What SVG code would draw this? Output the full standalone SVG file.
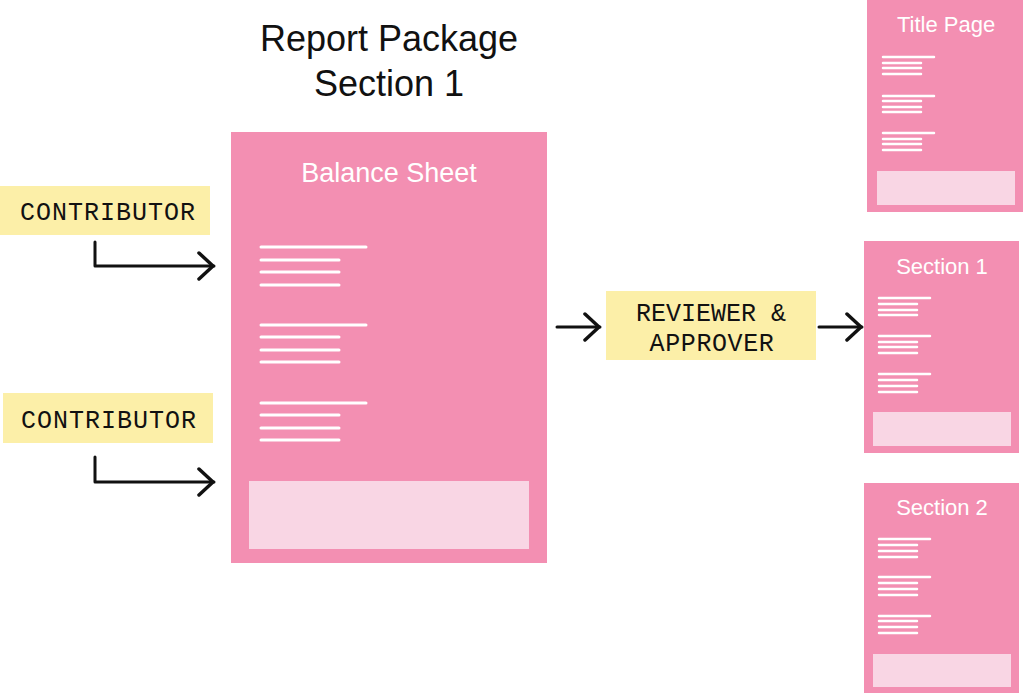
<svg xmlns="http://www.w3.org/2000/svg" width="1024" height="695" viewBox="0 0 1024 695">
<defs>
<style>
.page{fill:#F38FB2}
.foot{fill:#F9D6E4}
.ln{stroke:#FFFFFF;stroke-width:3;stroke-linecap:round}
.lns{stroke:#FFFFFF;stroke-width:2.5;stroke-linecap:round}
.ptitle{font-family:"Liberation Sans",Arial,sans-serif;fill:#FFFFFF;text-anchor:middle}
.role{fill:#FCEFA8}
.rtxt{font-family:"Liberation Mono","DejaVu Sans Mono",monospace;font-size:25px;fill:#111111;text-anchor:middle}
.head{font-family:"Liberation Sans",Arial,sans-serif;font-size:36px;fill:#111111;text-anchor:middle}
.conn{fill:none;stroke:#111111;stroke-width:3;stroke-linecap:round;stroke-linejoin:round}
</style>
<marker id="chev" viewBox="0 0 20 30" refX="18" refY="15" markerWidth="20" markerHeight="30" markerUnits="userSpaceOnUse" orient="auto">
<path d="M3,2 L17,15 L3,28" fill="none" stroke="#111111" stroke-width="3.5" stroke-linecap="round" stroke-linejoin="round"/>
</marker>
</defs>
<rect width="1024" height="695" fill="#FFFFFF"/>

<g id="heading">
<text class="head" x="389" y="51">Report Package</text>
<text class="head" x="389" y="96">Section 1</text>
</g>

<g id="balance-sheet">
<rect class="page" x="231" y="132" width="316" height="431"/>
<text class="ptitle" x="389" y="182" font-size="27">Balance Sheet</text>
<line class="ln" x1="261" y1="247" x2="366" y2="247"/>
<line class="ln" x1="261" y1="260" x2="339" y2="260"/>
<line class="ln" x1="261" y1="272" x2="339" y2="272"/>
<line class="ln" x1="261" y1="285" x2="339" y2="285"/>
<line class="ln" x1="261" y1="325" x2="366" y2="325"/>
<line class="ln" x1="261" y1="337" x2="339" y2="337"/>
<line class="ln" x1="261" y1="350" x2="339" y2="350"/>
<line class="ln" x1="261" y1="362" x2="339" y2="362"/>
<line class="ln" x1="261" y1="403" x2="366" y2="403"/>
<line class="ln" x1="261" y1="415" x2="339" y2="415"/>
<line class="ln" x1="261" y1="428" x2="339" y2="428"/>
<line class="ln" x1="261" y1="440" x2="339" y2="440"/>
<rect class="foot" x="249" y="481" width="280" height="68"/>
</g>

<g id="contributor-1">
<rect class="role" x="0" y="186" width="210" height="49"/>
<text class="rtxt" x="108" y="220" letter-spacing="1">CONTRIBUTOR</text>
</g>

<g id="contributor-2">
<rect class="role" x="3" y="393" width="210" height="50"/>
<text class="rtxt" x="109" y="428" letter-spacing="1">CONTRIBUTOR</text>
</g>

<g id="reviewer">
<rect class="role" x="606" y="291" width="210" height="69"/>
<text class="rtxt" x="711" y="321">REVIEWER &amp;</text>
<text class="rtxt" x="712" y="351" letter-spacing="0.6">APPROVER</text>
</g>

<g id="title-page">
<rect class="page" x="867" y="0" width="156" height="212"/>
<text class="ptitle" x="946" y="32" font-size="22">Title Page</text>
<line class="lns" x1="883" y1="57" x2="934" y2="57"/>
<line class="lns" x1="883" y1="63" x2="921" y2="63"/>
<line class="lns" x1="883" y1="68" x2="921" y2="68"/>
<line class="lns" x1="883" y1="74" x2="921" y2="74"/>
<line class="lns" x1="883" y1="96" x2="934" y2="96"/>
<line class="lns" x1="883" y1="101" x2="921" y2="101"/>
<line class="lns" x1="883" y1="107" x2="921" y2="107"/>
<line class="lns" x1="883" y1="112" x2="921" y2="112"/>
<line class="lns" x1="883" y1="133" x2="934" y2="133"/>
<line class="lns" x1="883" y1="139" x2="921" y2="139"/>
<line class="lns" x1="883" y1="144" x2="921" y2="144"/>
<line class="lns" x1="883" y1="150" x2="921" y2="150"/>
<rect class="foot" x="877" y="171" width="138" height="34"/>
</g>

<g id="section-1">
<rect class="page" x="864" y="241" width="155" height="212"/>
<text class="ptitle" x="942" y="274" font-size="22">Section 1</text>
<line class="lns" x1="879" y1="298" x2="930" y2="298"/>
<line class="lns" x1="879" y1="304" x2="917" y2="304"/>
<line class="lns" x1="879" y1="310" x2="917" y2="310"/>
<line class="lns" x1="879" y1="315" x2="917" y2="315"/>
<line class="lns" x1="879" y1="336" x2="930" y2="336"/>
<line class="lns" x1="879" y1="342" x2="917" y2="342"/>
<line class="lns" x1="879" y1="347" x2="917" y2="347"/>
<line class="lns" x1="879" y1="353" x2="917" y2="353"/>
<line class="lns" x1="879" y1="374" x2="930" y2="374"/>
<line class="lns" x1="879" y1="380" x2="917" y2="380"/>
<line class="lns" x1="879" y1="386" x2="917" y2="386"/>
<line class="lns" x1="879" y1="392" x2="917" y2="392"/>
<rect class="foot" x="873" y="412" width="138" height="34"/>
</g>

<g id="section-2">
<rect class="page" x="864" y="483" width="155" height="210"/>
<text class="ptitle" x="942" y="515" font-size="22">Section 2</text>
<line class="lns" x1="879" y1="539" x2="930" y2="539"/>
<line class="lns" x1="879" y1="545" x2="917" y2="545"/>
<line class="lns" x1="879" y1="551" x2="917" y2="551"/>
<line class="lns" x1="879" y1="557" x2="917" y2="557"/>
<line class="lns" x1="879" y1="577" x2="930" y2="577"/>
<line class="lns" x1="879" y1="583" x2="917" y2="583"/>
<line class="lns" x1="879" y1="589" x2="917" y2="589"/>
<line class="lns" x1="879" y1="595" x2="917" y2="595"/>
<line class="lns" x1="879" y1="616" x2="930" y2="616"/>
<line class="lns" x1="879" y1="621" x2="917" y2="621"/>
<line class="lns" x1="879" y1="627" x2="917" y2="627"/>
<line class="lns" x1="879" y1="633" x2="917" y2="633"/>
<rect class="foot" x="873" y="654" width="138" height="33"/>
</g>

<g id="connectors">
<path class="conn" d="M95,242 L95,266 L214,266" marker-end="url(#chev)"/>
<path class="conn" d="M95,457 L95,482 L214,482" marker-end="url(#chev)"/>
<path class="conn" d="M557,327 L600,327" marker-end="url(#chev)"/>
<path class="conn" d="M819,327 L862,327" marker-end="url(#chev)"/>
</g>
</svg>
